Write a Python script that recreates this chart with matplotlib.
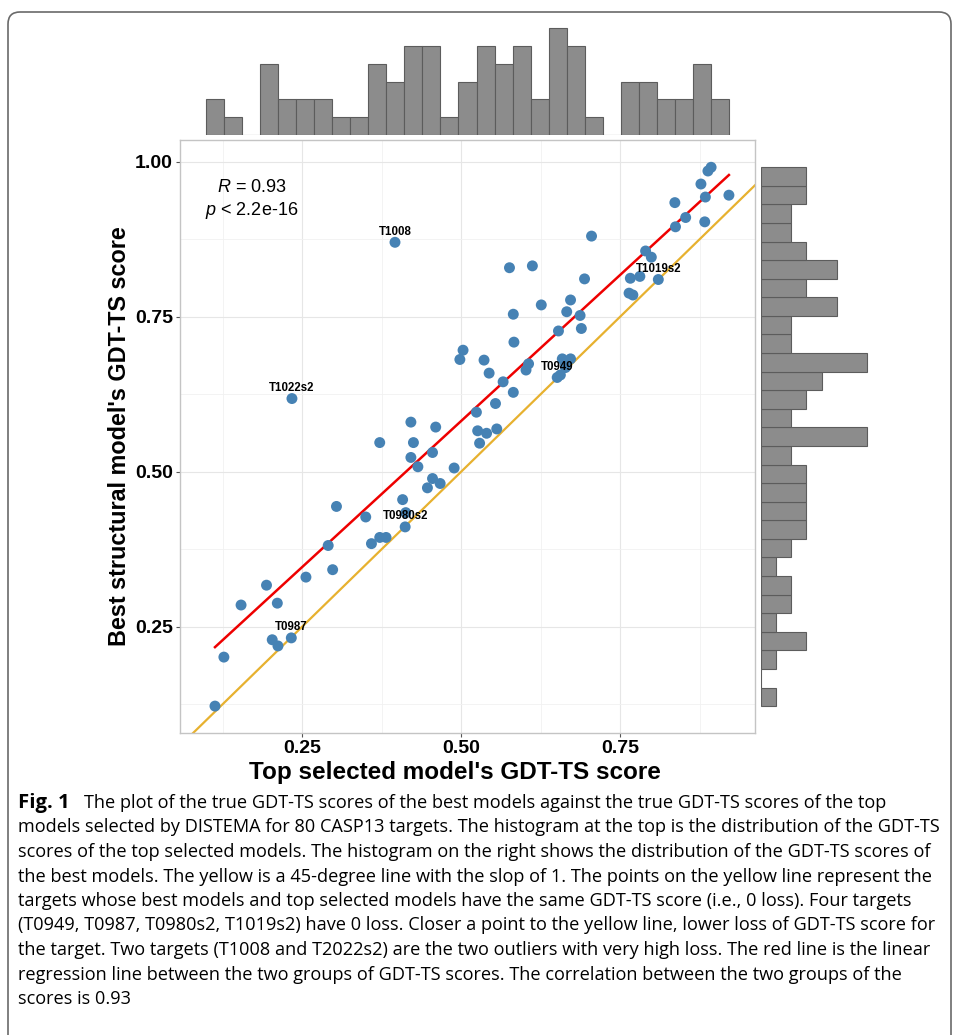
import numpy as np
import matplotlib
matplotlib.use('Agg')
import matplotlib.pyplot as plt
from matplotlib.patches import FancyBboxPatch
from matplotlib.ticker import MultipleLocator

plt.rcParams['font.family'] = ['Liberation Sans', 'DejaVu Sans']
plt.rcParams['mathtext.fontset'] = 'custom'
plt.rcParams['mathtext.rm'] = 'Liberation Sans'
plt.rcParams['mathtext.it'] = 'Liberation Sans:italic'

#==========================================================================
#   GDT-TS scores: top selected model vs best model
#==========================================================================
top_score = [0.113, 0.127, 0.154, 0.194, 0.203, 0.211, 0.212, 0.233, 0.234, 0.256,
             0.291, 0.298, 0.304, 0.350, 0.359, 0.372, 0.372, 0.382, 0.396, 0.408,
             0.412, 0.413, 0.421, 0.421, 0.425, 0.432, 0.447, 0.455, 0.455, 0.460,
             0.467, 0.489, 0.498, 0.503, 0.524, 0.526, 0.529, 0.536, 0.540, 0.544,
             0.554, 0.556, 0.566, 0.576, 0.582, 0.582, 0.583, 0.602, 0.606, 0.612,
             0.626, 0.651, 0.653, 0.656, 0.659, 0.664, 0.664, 0.666, 0.672, 0.672,
             0.687, 0.689, 0.694, 0.705, 0.764, 0.766, 0.770, 0.781, 0.790, 0.799,
             0.810, 0.836, 0.837, 0.853, 0.877, 0.883, 0.884, 0.888, 0.893, 0.921]
best_score = [0.122, 0.201, 0.285, 0.317, 0.229, 0.288, 0.219, 0.232, 0.618, 0.330,
              0.381, 0.342, 0.444, 0.427, 0.384, 0.547, 0.394, 0.394, 0.870, 0.455,
              0.411, 0.434, 0.580, 0.523, 0.547, 0.508, 0.474, 0.531, 0.489, 0.572,
              0.481, 0.506, 0.681, 0.696, 0.596, 0.566, 0.546, 0.680, 0.562, 0.659,
              0.610, 0.569, 0.645, 0.829, 0.628, 0.754, 0.709, 0.664, 0.674, 0.832,
              0.769, 0.652, 0.727, 0.656, 0.682, 0.674, 0.668, 0.758, 0.777, 0.682,
              0.752, 0.731, 0.811, 0.880, 0.788, 0.812, 0.785, 0.815, 0.856, 0.846,
              0.810, 0.934, 0.895, 0.910, 0.964, 0.903, 0.943, 0.985, 0.991, 0.946]

# labelled targets
label_names = ['T1008', 'T1022s2', 'T0949', 'T1019s2', 'T0980s2', 'T0987']
label_x = [0.396, 0.234, 0.651, 0.810, 0.412, 0.233]
label_y = [0.870, 0.618, 0.652, 0.810, 0.411, 0.232]

# marginal histograms (29 bins each)
top_counts = [2, 1, 0, 4, 2, 2, 2, 1, 1, 4, 3, 5, 5, 1, 3, 5, 4, 5, 2, 6, 5, 1, 0, 3, 3, 2, 2, 4, 2]
top_range = (0.099, 0.921)
right_counts = [1, 0, 1, 3, 1, 2, 2, 1, 2, 3, 3, 3, 3, 2, 7, 2, 3, 4, 7, 2, 2, 5, 3, 5, 3, 2, 2, 3, 3]  # bottom -> top
right_range = (0.122, 0.991)

stat_text = '$R$ = 0.93\n$p$ < 2.2e-16'

caption_lines = [
    'The plot of the true GDT-TS scores of the best models against the true GDT-TS scores of the top',
    'models selected by DISTEMA for 80 CASP13 targets. The histogram at the top is the distribution of the GDT-TS',
    'scores of the top selected models. The histogram on the right shows the distribution of the GDT-TS scores of',
    'the best models. The yellow is a 45-degree line with the slop of 1. The points on the yellow line represent the',
    'targets whose best models and top selected models have the same GDT-TS score (i.e., 0 loss). Four targets',
    '(T0949, T0987, T0980s2, T1019s2) have 0 loss. Closer a point to the yellow line, lower loss of GDT-TS score for',
    'the target. Two targets (T1008 and T2022s2) are the two outliers with very high loss. The red line is the linear',
    'regression line between the two groups of GDT-TS scores. The correlation between the two groups of the',
    'scores is 0.93',
]

#==========================================================================
W, H = 955, 1035
fig = plt.figure(figsize=(W/100, H/100), dpi=100)

def px_axes(l, t, r, b):
    return fig.add_axes([l/W, 1 - b/H, (r - l)/W, (b - t)/H])

# frame around figure + caption
bg = fig.add_axes([0, 0, 1, 1])
bg.set_xlim(0, W); bg.set_ylim(H, 0); bg.axis('off')
bg.add_patch(FancyBboxPatch((8, 12), 943, 1100, boxstyle='round,pad=0,rounding_size=12',
                            fc='white', ec='#6a6a6a', lw=1.2))

xlim = (0.058, 0.962)
ylim = (0.0786, 1.035)

ax = px_axes(180, 140, 755, 733)
ax.set_xlim(xlim); ax.set_ylim(ylim)
ax.xaxis.set_major_locator(MultipleLocator(0.25))
ax.yaxis.set_major_locator(MultipleLocator(0.25))
ax.xaxis.set_minor_locator(MultipleLocator(0.125))
ax.yaxis.set_minor_locator(MultipleLocator(0.125))
ax.grid(which='major', color='#e6e6e6', lw=0.8)
ax.grid(which='minor', color='#f1f1f1', lw=0.6)
ax.set_axisbelow(True)
for s in ax.spines.values():
    s.set_color('#c4c4c4'); s.set_linewidth(1.0)
ax.tick_params(which='major', length=3, width=0.8, color='#555555', pad=2, labelsize=14)
ax.tick_params(which='minor', length=0)
ax.set_xticklabels(['%.2f' % v for v in ax.get_xticks()])
ax.set_yticklabels(['%.2f' % v for v in ax.get_yticks()])
for lab in ax.get_xticklabels() + ax.get_yticklabels():
    lab.set_fontweight('bold')

xs = np.array(top_score); ys = np.array(best_score)
# 45 degree line
ax.axline((0, 0), slope=1, color='#E7B12F', lw=1.6, zorder=2)
# regression line
k, c = np.polyfit(xs, ys, 1)
xr = np.array([xs.min(), xs.max()])
ax.plot(xr, k*xr + c, color='#ee0000', lw=1.8, zorder=3)
ax.scatter(xs, ys, s=62, color='#4682b4', edgecolors='none', zorder=4)

for name, lx, ly in zip(label_names, label_x, label_y):
    ax.annotate(name, (lx, ly), xytext=(0, 7.5), textcoords='offset points',
                ha='center', va='center', fontsize=8.3, fontweight='bold', zorder=5)

ax.text(0.171, 0.938, stat_text, ha='center', va='center', multialignment='center',
        fontsize=13, linespacing=1.25)

# axis titles
fig.text(455/W, 1 - 773/H, "Top selected model's GDT-TS score", ha='center', va='center',
         fontsize=17.5, fontweight='bold')
fig.text(120/W, 1 - 436/H, "Best structural model's GDT-TS score", ha='center', va='center',
         rotation=90, fontsize=16.8, fontweight='bold')

# top marginal histogram
axt = px_axes(180, 23, 755, 135)
edges = np.linspace(top_range[0], top_range[1], len(top_counts) + 1)
axt.bar(edges[:-1], top_counts, width=np.diff(edges), align='edge',
        color='#8c8c8c', edgecolor='#5c5c5c', lw=0.8)
axt.set_xlim(xlim); axt.set_ylim(0, 6.3)
axt.axis('off')

# right marginal histogram
axr = px_axes(761, 140, 876, 733)
edges = np.linspace(right_range[0], right_range[1], len(right_counts) + 1)
axr.barh(edges[:-1], right_counts, height=np.diff(edges), align='edge',
         color='#8c8c8c', edgecolor='#5c5c5c', lw=0.8)
axr.set_ylim(ylim); axr.set_xlim(0, 7.6)
axr.axis('off')

# caption
cap_font = ['Open Sans', 'DejaVu Sans']
y0, dy = 803, 24.5
fig_lab = fig.text(18/W, 1 - y0/H, 'Fig. 1', ha='left', va='center', family=cap_font,
                   fontweight='bold', fontsize=12.5)
texts = []
for i, line in enumerate(caption_lines):
    x0 = 84 if i == 0 else 18
    t = fig.text(x0/W, 1 - (y0 + i*dy)/H, line, ha='left', va='center',
                 family=cap_font, fontsize=12.5)
    texts.append(t)

# fit caption size so the lines span the same width as in the figure
fig.canvas.draw()
r = fig.canvas.get_renderer()
scale = (941 - 18) / texts[1].get_window_extent(r).width
for t in texts:
    t.set_fontsize(t.get_fontsize() * scale)
fig_lab.set_fontsize(texts[0].get_fontsize() * 1.12)

fig.savefig('out.png', dpi=100)
